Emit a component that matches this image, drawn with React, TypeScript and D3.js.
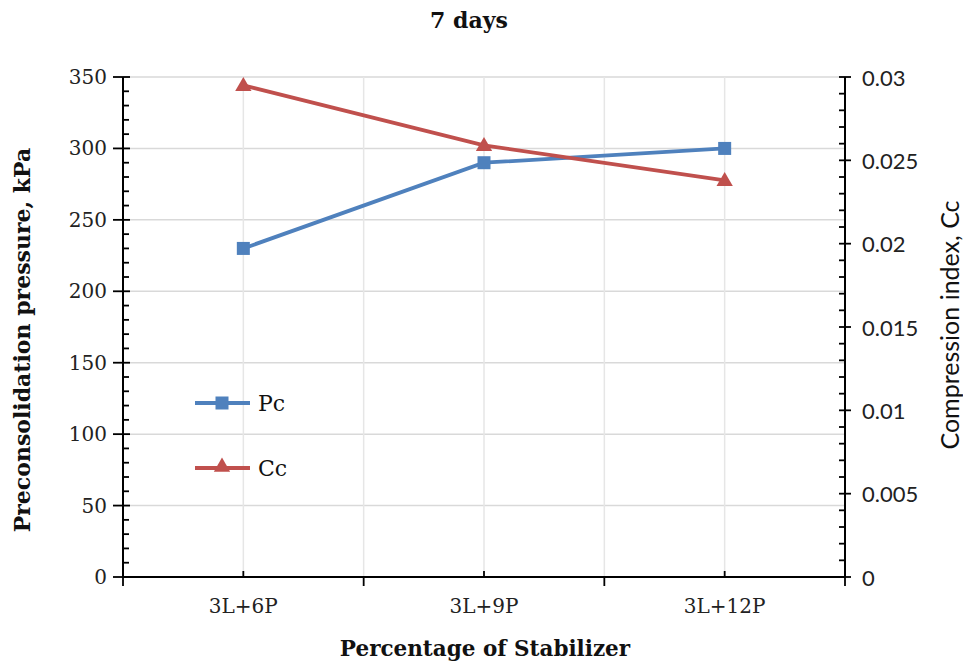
import React from "react";
import * as d3 from "d3";

const categories = ["3L+6P", "3L+9P", "3L+12P"];
const pcValues = [230, 290, 300];
const ccValues = [0.0295, 0.0259, 0.0238];
const leftTicks = [0, 50, 100, 150, 200, 250, 300, 350];
const rightTicks = [0, 0.005, 0.01, 0.015, 0.02, 0.025, 0.03];
const rightTickLabels = ["0", "0.005", "0.01", "0.015", "0.02", "0.025", "0.03"];

const W = 963, H = 666;
const L = 123, R = 845, T = 77, B = 577;
const BLUE = "#4F81BD", RED = "#C0504D";
const SERIF = "'DejaVu Serif', serif";
const SANS = "Lato, 'Open Sans', sans-serif";

export default function App() {
  const x = d3.scaleBand<string>().domain(categories).range([L, R]);
  const cx = (c: string) => (x(c) as number) + x.bandwidth() / 2;
  const yL = d3.scaleLinear().domain([0, 350]).range([B, T]);
  const yR = d3.scaleLinear().domain([0, 0.03]).range([B, T]);

  const leftMinor = d3.range(0, 351, 10).filter((v) => v % 50 !== 0);
  const rightMinor = d3.range(0, 31, 1).filter((v) => v % 5 !== 0).map((v) => v / 1000);

  const bounds = categories.map((c) => x(c) as number).concat([R]);
  const vGrid = categories.map(cx).concat(bounds.slice(1, -1));

  const linePc = d3.line<number>().x((_, i) => cx(categories[i])).y((d) => yL(d));
  const lineCc = d3.line<number>().x((_, i) => cx(categories[i])).y((d) => yR(d));
  const tri = d3.symbol().type(d3.symbolTriangle).size(115)();

  return (
    <svg width={W} height={H} style={{ position: "absolute", left: 0, top: 0, background: "#fff" }}>
      {/* grid */}
      {leftTicks.filter((v) => v > 0).map((v) => (
        <line key={"hg" + v} x1={L} x2={R} y1={yL(v)} y2={yL(v)} stroke="#d9d9d9" strokeWidth={1.5} />
      ))}
      {vGrid.map((gx, i) => (
        <line key={"vg" + i} x1={gx} x2={gx} y1={T} y2={B} stroke="#e6e6e6" strokeWidth={1.5} />
      ))}

      {/* lines */}
      <path d={linePc(pcValues) as string} fill="none" stroke={BLUE} strokeWidth={3.8} />
      <path d={lineCc(ccValues) as string} fill="none" stroke={RED} strokeWidth={3.8} />
      {pcValues.map((v, i) => (
        <rect key={"pm" + i} x={cx(categories[i]) - 6.5} y={yL(v) - 6.5} width={13} height={13} fill={BLUE} />
      ))}
      {ccValues.map((v, i) => (
        <path key={"cm" + i} d={tri as string} transform={`translate(${cx(categories[i])},${yR(v) + 1})`} fill={RED} />
      ))}

      {/* axes */}
      <line x1={L} x2={L} y1={T} y2={B} stroke="#000" strokeWidth={2} />
      <line x1={R} x2={R} y1={T} y2={B} stroke="#000" strokeWidth={2} />
      <line x1={L} x2={R} y1={B} y2={B} stroke="#000" strokeWidth={2} />

      {leftTicks.map((v) => (
        <g key={"lt" + v}>
          <line x1={L - 10} x2={L + 7} y1={yL(v)} y2={yL(v)} stroke="#000" strokeWidth={1.8} />
          <text x={107} y={yL(v)} textAnchor="end" dominantBaseline="central" fontFamily={SERIF} fontSize={20} fill="#222">
            {v}
          </text>
        </g>
      ))}
      {leftMinor.map((v) => (
        <line key={"lm" + v} x1={L} x2={L + 6} y1={yL(v)} y2={yL(v)} stroke="#000" strokeWidth={1.8} />
      ))}

      {rightTicks.map((v, i) => (
        <g key={"rt" + i}>
          <line x1={R - 6} x2={R + 6} y1={yR(v)} y2={yR(v)} stroke="#000" strokeWidth={1.8} />
          <text x={862} y={yR(v)} textAnchor="start" dominantBaseline="central" fontFamily={SANS} fontSize={22} fill="#222">
            {rightTickLabels[i]}
          </text>
        </g>
      ))}
      {rightMinor.map((v, i) => (
        <line key={"rm" + i} x1={R - 6} x2={R} y1={yR(v)} y2={yR(v)} stroke="#000" strokeWidth={1.8} />
      ))}

      {bounds.map((bx, i) => (
        <line key={"xb" + i} x1={bx} x2={bx} y1={B} y2={B + 9} stroke="#000" strokeWidth={1.8} />
      ))}
      {categories.map((c) => (
        <g key={"xc" + c}>
          <line x1={cx(c)} x2={cx(c)} y1={B - 6} y2={B} stroke="#000" strokeWidth={1.8} />
          <text x={cx(c)} y={613} textAnchor="middle" fontFamily={SERIF} fontSize={20} fill="#222">
            {c}
          </text>
        </g>
      ))}

      {/* legend */}
      <line x1={195} x2={250} y1={403} y2={403} stroke={BLUE} strokeWidth={3.8} />
      <rect x={222 - 6.5} y={403 - 6.5} width={13} height={13} fill={BLUE} />
      <text x={258} y={403} dominantBaseline="central" fontFamily={SERIF} fontSize={22} fill="#111">Pc</text>
      <line x1={195} x2={250} y1={468} y2={468} stroke={RED} strokeWidth={3.8} />
      <path d={tri as string} transform={`translate(222,${468 - 1})`} fill={RED} />
      <text x={258} y={468} dominantBaseline="central" fontFamily={SERIF} fontSize={22} fill="#111">Cc</text>

      {/* titles */}
      <text x={469} y={28} textAnchor="middle" fontFamily={SERIF} fontWeight="bold" fontSize={22} fill="#111">7 days</text>
      <text x={485} y={656} textAnchor="middle" fontFamily={SERIF} fontWeight="bold" fontSize={21.5} fill="#111">
        Percentage of Stabilizer
      </text>
      <text transform="translate(22,340) rotate(-90)" textAnchor="middle" dominantBaseline="central" fontFamily={SERIF} fontWeight="bold" fontSize={22} fill="#111">
        Preconsolidation pressure, kPa
      </text>
      <text transform="translate(949,325) rotate(-90)" textAnchor="middle" dominantBaseline="central" fontFamily={SANS} fontSize={25} fill="#111">
        Compression index, Cc
      </text>
    </svg>
  );
}
